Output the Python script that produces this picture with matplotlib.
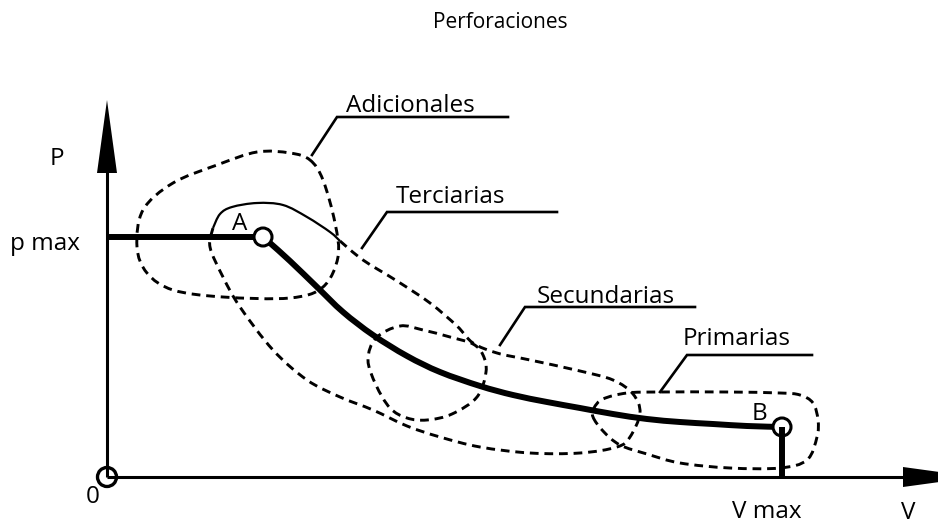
import numpy as np
import matplotlib
matplotlib.use("Agg")
import matplotlib.pyplot as plt
from matplotlib.path import Path
from matplotlib.patches import PathPatch, Polygon, Circle

plt.rcParams['font.family'] = ['Open Sans', 'DejaVu Sans']

# ---- data (pixel-space coordinates) ----
main_curve_x = [263, 270, 290, 317, 343, 373, 407, 440, 480, 513, 547, 580, 613, 647, 680, 713, 747, 782]
main_curve_y = [237, 243, 261, 287, 312, 335, 356, 372, 386, 395, 402, 408, 414, 419, 422, 424, 426, 427]
pmax_y = 237
point_A = (263, 237)
point_B = (782, 427)
origin = (107, 477)
axis_x_end = 976
axis_y_top = 100

adicionales_pts = [(310, 160), (323, 180), (335, 223), (338, 257), (323, 287), (290, 298), (223, 297),
                   (173, 290), (147, 273), (137, 247), (143, 210), (173, 183), (217, 165), (257, 152), (290, 153)]
terciarias_solid = [(213, 228), (220, 214), (232, 207), (257, 203), (283, 205), (307, 217), (330, 232), (340, 241)]
terciarias_dash = [(340, 241), (363, 260), (397, 281), (430, 303), (457, 326), (473, 343), (497, 353),
                   (530, 360), (580, 371), (613, 380), (633, 394), (640, 413), (630, 437), (617, 447),
                   (580, 453), (530, 453), (480, 447), (440, 437), (407, 426), (373, 410), (340, 397),
                   (307, 380), (273, 350), (240, 307), (223, 277), (210, 247), (213, 228)]
secundarias_pts = [(400, 326), (423, 330), (450, 337), (473, 344), (483, 355), (486, 372), (477, 397),
                   (452, 414), (427, 420), (407, 418), (390, 408), (376, 385), (368, 360), (376, 338)]
primarias_pts = [(593, 417), (603, 431), (620, 445), (647, 454), (680, 463), (730, 468), (780, 468),
                 (807, 460), (817, 437), (818, 420), (813, 403), (800, 395), (780, 393), (727, 392),
                 (660, 392), (627, 393), (603, 399), (594, 408)]

labels = ["Adicionales", "Terciarias", "Secundarias", "Primarias"]
label_x = [410, 451, 606, 737]
label_base = [112, 203, 303, 345]
leader_start = [(312, 155), (362, 248), (500, 345), (660, 392)]
leader_knee = [(337, 117), (387, 212), (525, 307), (687, 355)]
leader_end_x = [508, 557, 695, 812]

title = "Perforaciones"


def spline_path(pts, closed):
    P = np.array(pts, dtype=float)
    n = len(P)
    verts = [P[0]]
    codes = [Path.MOVETO]
    nseg = n if closed else n - 1
    for i in range(nseg):
        p0 = P[(i - 1) % n] if (closed or i > 0) else P[0]
        p1 = P[i % n]
        p2 = P[(i + 1) % n]
        p3 = P[(i + 2) % n] if (closed or i + 2 < n) else P[-1]
        c1 = p1 + (p2 - p0) / 6.0
        c2 = p2 - (p3 - p1) / 6.0
        verts += [c1, c2, p2]
        codes += [Path.CURVE4] * 3
    return Path(verts, codes)


fig = plt.figure(figsize=(9.38, 5.25), dpi=100)
ax = fig.add_axes([0, 0, 1, 1])
ax.set_xlim(0, 938)
ax.set_ylim(525, 0)
ax.axis('off')

K = 'black'
dash = (0, (3.0, 2.0))
dlw = 2.1

# axes
ax.plot([origin[0], origin[0]], [origin[1], axis_y_top + 60], color=K, lw=2.2, solid_capstyle='butt')
ax.plot([origin[0], axis_x_end - 60], [origin[1], origin[1]], color=K, lw=2.2, solid_capstyle='butt')
ax.add_patch(Polygon([(origin[0], axis_y_top), (origin[0] - 10, axis_y_top + 73), (origin[0] + 10, axis_y_top + 73)],
                     closed=True, color=K, lw=0))
ax.add_patch(Polygon([(axis_x_end, origin[1]), (axis_x_end - 73, origin[1] - 10), (axis_x_end - 73, origin[1] + 10)],
                     closed=True, color=K, lw=0, clip_on=True))
ax.add_patch(Circle(origin, 9.5, fill=False, ec=K, lw=2.4))

# blobs
for pts in (adicionales_pts, secundarias_pts, primarias_pts):
    ax.add_patch(PathPatch(spline_path(pts, True), fill=False, ec=K, lw=dlw, ls=dash))
ax.add_patch(PathPatch(spline_path(terciarias_solid, False), fill=False, ec=K, lw=1.6))
ax.add_patch(PathPatch(spline_path(terciarias_dash, False), fill=False, ec=K, lw=dlw, ls=dash))

# main characteristic
ax.plot([origin[0], point_A[0] - 9], [pmax_y, pmax_y], color=K, lw=4.3, solid_capstyle='butt')
ax.add_patch(PathPatch(spline_path(list(zip(main_curve_x, main_curve_y)), False), fill=False, ec=K, lw=4.3,
                       capstyle='butt'))
ax.add_patch(Circle(point_A, 9, fc='white', ec=K, lw=2.2, zorder=5))
ax.add_patch(Circle(point_B, 9, fc='white', ec=K, lw=2.2, zorder=5))
ax.plot([point_B[0], point_B[0]], [point_B[1], origin[1]], color=K, lw=4.3, solid_capstyle='butt', zorder=6)

# leaders and labels
fs = 17.5
for lab, lx, lb, s, k, ex in zip(labels, label_x, label_base, leader_start, leader_knee, leader_end_x):
    ax.plot([s[0], k[0], ex], [s[1], k[1], k[1]], color=K, lw=1.9, solid_joinstyle='miter')
    ax.text(lx, lb, lab, ha='center', va='baseline', fontsize=fs)

ax.text(500, 28, title, ha='center', va='baseline', fontsize=15)
ax.text(57, 165, "P", ha='center', va='baseline', fontsize=fs)
ax.text(80, 250, "p max", ha='right', va='baseline', fontsize=fs)
ax.text(240, 230, "A", ha='center', va='baseline', fontsize=fs)
ax.text(759, 420, "B", ha='center', va='baseline', fontsize=fs)
ax.text(93, 503, "0", ha='center', va='baseline', fontsize=fs)
ax.text(767, 518, "V max", ha='center', va='baseline', fontsize=fs)
ax.text(908, 519, "V", ha='center', va='baseline', fontsize=fs)

fig.savefig("out.png", dpi=100)
